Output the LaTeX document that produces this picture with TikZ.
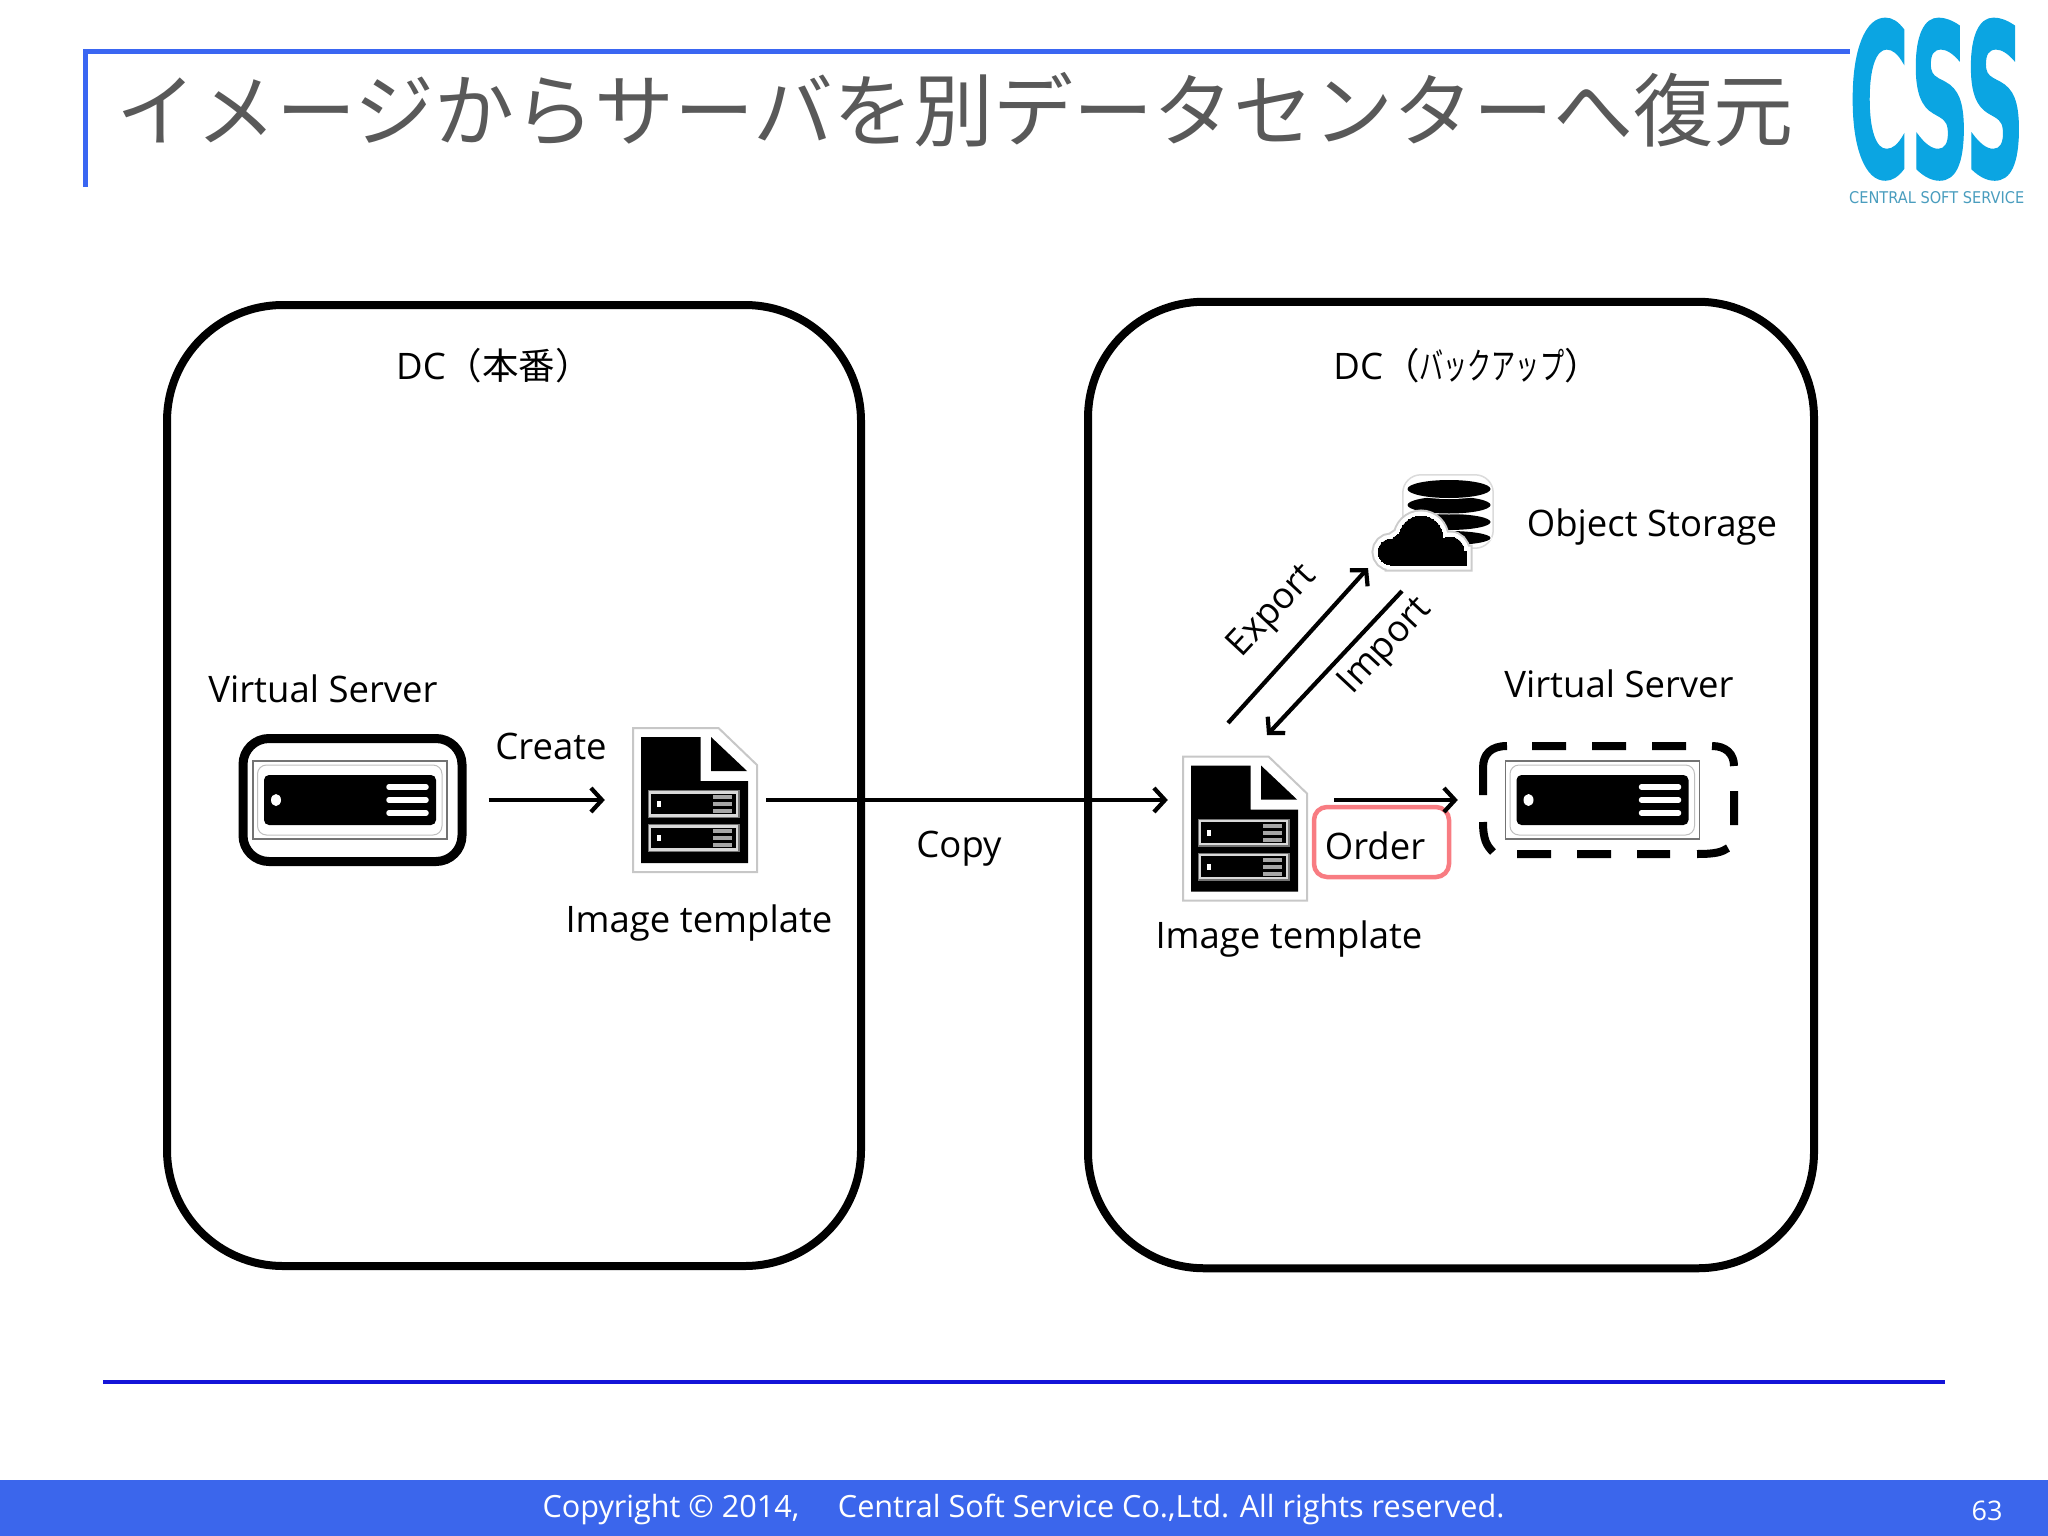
\documentclass[tikz,border=0pt]{standalone}
\usepackage{fontspec}
\setmainfont{Open Sans}
\newfontfamily\cjk{Noto Sans CJK JP}
\newfontfamily\logofont{DejaVu Sans}[UprightFont={* Bold},FakeBold=1.5]
\newfontfamily\logosubfont{DejaVu Sans}
\usetikzlibrary{arrows.meta,calc}
\definecolor{framecol}{HTML}{3A66F2}
\definecolor{rulecol}{HTML}{1414D8}
\definecolor{footcol}{HTML}{3B66EC}
\definecolor{titlecol}{HTML}{595959}
\definecolor{logocol}{HTML}{0BA5E2}
\definecolor{logosubcol}{HTML}{4A9DBE}
\definecolor{ordercol}{HTML}{F87C82}
\tikzset{
  x=1pt, y=-1pt,
  arr/.style={line width=4.2pt, -{Straight Barb[length=11pt,width=24pt,line width=4.2pt]}},
  dc/.style={draw=black, line width=8pt, rounded corners=116pt, inner sep=0pt},
  lab/.style={font=\fontsize{36.5}{42}\selectfont, inner sep=0pt},
  srvbox/.style={draw=black, line width=9pt, rounded corners=26pt, inner sep=0pt,
    minimum width=219pt, minimum height=123pt},
  blank/.style={inner sep=0pt},
  dashline/.style={draw=black, line width=8pt},
  docbox/.style={inner sep=0pt, minimum width=124pt, minimum height=144pt},
  orderbox/.style={draw=ordercol, line width=4.5pt, rounded corners=13pt, inner sep=0pt,
    minimum width=135pt, minimum height=70pt},
  pics/srvicon/.style={code={
    \draw[fill=white, draw=black!55, line width=1.5pt] (-97,-39) rectangle (97,39);
    \draw[black!25, line width=1pt, rounded corners=9pt] (-92.5,-35) rectangle (92,35);
    \fill[black, rounded corners=5pt] (-86,-25) rectangle (86,25);
    \fill[white] (-74,0) ellipse (5pt and 6pt);
    \foreach \yy in {-13,0,13}
      \draw[white, line width=5.5pt, line cap=round] (39,\yy) -- (76,\yy);
  }},
  pics/minisrv/.style={code={
    \fill[black!55] (-47,-14) rectangle (45,14);
    \draw[white!85!black, line width=2.5pt, fill=black] (-45,-11.5) rectangle (42,11.5);
    \fill[white] (-38,-3) rectangle (-34,3);
    \foreach \yy in {-7,0,7}
      \draw[white!65!black, line width=4pt] (18,\yy) -- (37,\yy);
  }},
  pics/docicon/.style={code={
    \draw[black!22, line width=2pt, fill=white] (-62,-72) -- (23.5,-72) -- (62,-35) -- (62,72) -- (-62,72) -- cycle;
    \fill[black] (-54,-63) -- (5.5,-63) -- (5.5,-19) -- (53,-19) -- (53,63) -- (-54,63) -- cycle;
    \fill[black] (16,-63) -- (16,-29) -- (52,-29) -- cycle;
    \pic at (0,4) {minisrv};
    \pic at (0,38) {minisrv};
  }},
}
\begin{document}
\begin{tikzpicture}
\useasboundingbox (0,0) rectangle (2048,1536);

% title frame
\draw[framecol, line width=4.5pt] (85.3,187) -- (85.3,51.7) -- (1850,51.7);
\node[text=titlecol, font=\cjk\fontsize{80}{90}\selectfont, inner sep=0pt] (title) at (955,110)
  {イメージからサーバを別データセンターへ復元};

% logo
\node[text=logocol, inner sep=0pt, anchor=north west] (logo) at (1849,19)
  {\resizebox{175pt}{157pt}{\logofont CSS}};
\node[text=logosubcol, inner sep=0pt, anchor=north west] (logosub) at (1849,191)
  {\resizebox{175pt}{12pt}{\logosubfont\fontsize{20}{24}\selectfont CENTRAL SOFT SERVICE}};

% data centres
\node[dc, minimum width=694pt, minimum height=961pt] (dcL) at (514,785.5) {};
\node[dc, minimum width=726pt, minimum height=966.5pt] (dcR) at (1451,785) {};
\node[lab] (dcLt) at (494,366) {DC{\cjk（本番）}};
\node[lab] (dcRt) at (1467,366) {DC{\cjk（\scalebox{0.66}[1]{バックアップ}）}};

% left side
\node[lab] (vsL) at (323,689) {Virtual Server};
\node[srvbox] (srvL) at (352.5,800) {};
\pic at (350,800) {srvicon};
\node[lab] (create) at (551,746) {Create};
\node[docbox] (docL) at (695,800) {};
\pic at (695,800) {docicon};
\node[lab] (itL) at (699,923) {Image template};
\draw[arr, shorten <=22pt, shorten >=28pt] (srvL.east) -- (docL.west);

% copy
\node[docbox] (docR) at (1245,828.5) {};
\pic at (1245,828.5) {docicon};
\coordinate (copyTo) at ($(docR.west)+(-15,-28.5)$);
\coordinate (copyFrom) at ($(docL.east)+(9,0)$);
\draw[arr] (copyFrom) -- (copyTo);
\node[lab] (copy) at (959,849) {Copy};

% right side
\node[lab] (itR) at (1289,939) {Image template};
\node[lab] (vsR) at (1619,684) {Virtual Server};
\node[blank, minimum width=251pt, minimum height=108pt] (srvR) at (1608.5,800) {};
% dashed outline, dash by dash
\draw[dashline]
  (1532,746) -- (1566,746) (1592,746) -- (1626,746) (1652,746) -- (1686,746)
  (1712,746) .. controls (1726,746) and (1734,754) .. (1734,766)
  (1734,791) -- (1734,825)
  (1728,848) .. controls (1722,852) and (1716,854) .. (1697,854)
  (1670,854) -- (1637,854) (1611,854) -- (1577,854) (1551,854) -- (1517,854)
  (1493,852) .. controls (1487,846) and (1483,840) .. (1483,822)
  (1483,795) -- (1483,768) .. controls (1483,754) and (1491,746) .. (1507,746);
\pic at (1602.5,800) {srvicon};
\node[orderbox] (order) at (1381.5,842) {};
\node[lab] (ordert) at (1375,846) {Order};
\coordinate (orderFrom) at (1334,800);
\draw[arr, shorten >=25pt] (orderFrom) -- (srvR.west);

% object storage
\node[blank, minimum width=90pt, minimum height=73pt] (stack) at (1448,511.5) {};
\node[blank, minimum width=90pt, minimum height=48pt] (cloud) at (1422,541) {};
\draw[black!14, line width=1.5pt, fill=white, rounded corners=18pt] (stack.north west) rectangle (stack.south east);
\foreach \yy/\ry in {538/7,522/8,505/8.5,489/9}{
  \fill[white] (1449,\yy) ellipse (43pt and \ry pt+1pt);
  \fill[black] (1449,\yy) ellipse (41.5pt and \ry pt);
}
\foreach \wd/\col in {13/black!20,9/white,0/black}{
  \fill[\col, draw=\col, line width=\wd pt] (1391,552) circle (13pt)
    (1402,546) circle (12pt) (1421,538) circle (22pt) (1450,551) circle (14pt)
    (1391,551) rectangle (1466,565);
}
\node[lab] (ost) at (1652,527) {Object Storage};
\coordinate (expFrom) at (1228,723);
\coordinate (expTo) at (1368,568);
\coordinate (impFrom) at (1402,591);
\coordinate (impTo) at (1267,735);
\draw[arr] (expFrom) -- (expTo);
\draw[arr] (impFrom) -- (impTo);
\node[lab, rotate=47] (exp) at (1273,612) {Export};
\node[lab, rotate=47] (imp) at (1386,647) {Import};

% footer
\draw[rulecol, line width=4pt] (103,1382) -- (1945,1382);
\fill[footcol] (0,1480) rectangle (2048,1536);
\node[text=white, inner sep=0pt, font=\fontsize{30.6}{36}\selectfont] (copyr) at (1023.5,1509)
  {Copyright © 2014,{\cjk　}\hspace{8pt}Central Soft Service Co.,Ltd. All rights reserved.};
\node[text=white, inner sep=0pt, font=\fontsize{27}{32}\selectfont] (pageno) at (1987,1511) {63};
\end{tikzpicture}
\end{document}
